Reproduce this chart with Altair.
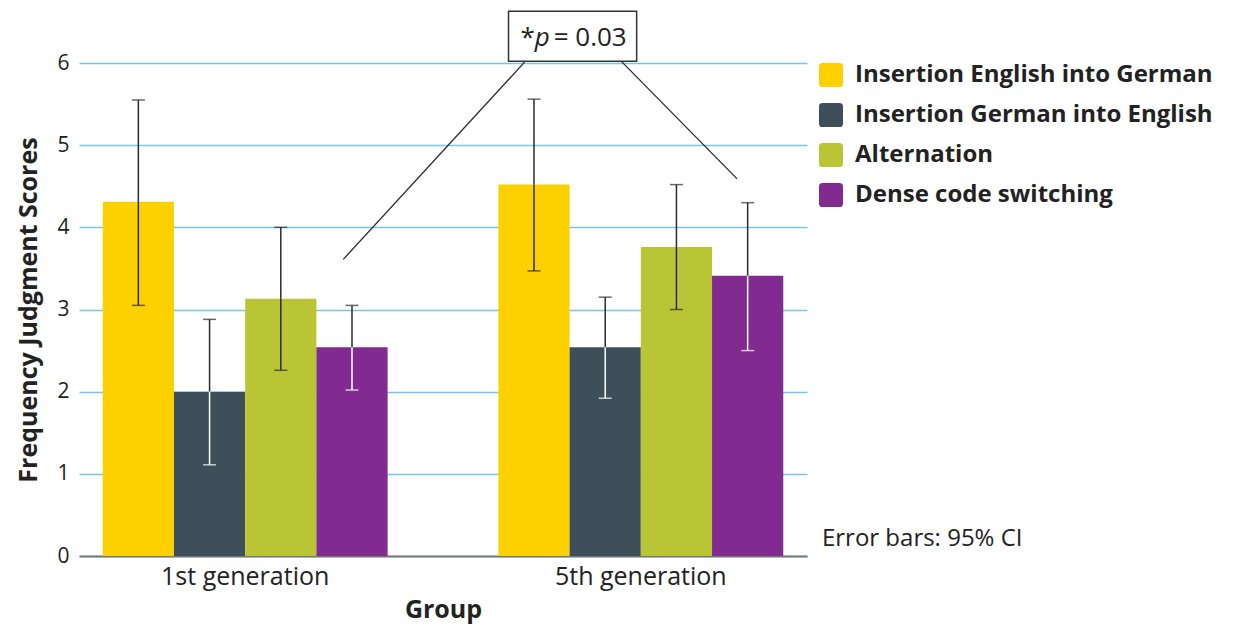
import altair as alt
import pandas as pd

groups = ["1st generation", "5th generation"]
series = ["Insertion English into German", "Insertion German into English",
          "Alternation", "Dense code switching"]
means_1st = [4.31, 2.00, 3.13, 2.54]
means_5th = [4.52, 2.54, 3.76, 3.41]
ci_low_1st = [3.05, 1.11, 2.26, 2.02]
ci_high_1st = [5.55, 2.88, 4.00, 3.05]
ci_low_5th = [3.47, 1.92, 3.00, 2.50]
ci_high_5th = [5.56, 3.15, 4.52, 4.30]
colors = ["#FDD100", "#3E4F5A", "#BAC536", "#812A8F"]
white_bar_series = ["Insertion German into English", "Dense code switching"]

y_ticks = [0, 1, 2, 3, 4, 5, 6]

# annotation (x as fraction of plot width, y in score units)
box_x = [0.590, 0.766]
box_y = [6.02, 6.63]
lines_x = [0.612, 0.363, 0.745, 0.904]   # x_top, x_bottom pairs
lines_y = [6.01, 3.61, 6.02, 4.59]
p_text_x = [0.6260, 0.6260, 0.6520]
p_text_y = 6.207
note_x = 1.0205
note_y = 0.207

rows = []
for g, m, lo, hi in [(groups[0], means_1st, ci_low_1st, ci_high_1st),
                     (groups[1], means_5th, ci_low_5th, ci_high_5th)]:
    for s, mv, l, h in zip(series, m, lo, hi):
        rows.append({"group": g, "series": s, "value": mv, "lo": l, "hi": h})
df = pd.DataFrame(rows)

FONT = "Open Sans"
DARK = "#2b2b2b"

yscale = alt.Scale(domain=[0, 6], nice=False, zero=True)
x_enc = alt.X("group:N", sort=groups, title="Group",
              scale=alt.Scale(paddingInner=0.28, paddingOuter=0.06),
              axis=alt.Axis(labelAngle=0, labelFontSize=25, labelFont=FONT,
                            labelColor="#222", titleFont=FONT, titleFontSize=25,
                            titleFontWeight="bold", titleColor="#222",
                            ticks=False, domainColor="#777", domainWidth=2,
                            labelPadding=8, titlePadding=8))
xo = alt.XOffset("series:N", sort=series)

base = alt.Chart(df)

bars = base.mark_bar().encode(
    x=x_enc, xOffset=xo,
    y=alt.Y("value:Q", scale=yscale, title="Frequency Judgment Scores",
            axis=alt.Axis(values=y_ticks, format="d", grid=True,
                          gridColor="#74c7ec",
                          gridWidth=1.5, domain=False, ticks=False,
                          labelFontSize=21, labelFont=FONT, labelColor="#222",
                          labelPadding=10, titleFont=FONT, titleFontSize=25,
                          titleFontWeight="bold", titleColor="#222",
                          titlePadding=15)),
    color=alt.Color("series:N", sort=series,
                    scale=alt.Scale(domain=series, range=colors),
                    legend=alt.Legend(title=None, orient="right", offset=12,
                                      padding=0, labelFont=FONT,
                                      labelFontSize=24, labelFontWeight="bold",
                                      labelColor="#222", rowPadding=16,
                                      symbolSize=576, symbolStrokeWidth=0,
                                      symbolOpacity=1,
                                      symbolType="M -0.7 -1 H 0.7 Q 1 -1 1 -0.7 V 0.7 Q 1 1 0.7 1 H -0.7 Q -1 1 -1 0.7 V -0.7 Q -1 -1 -0.7 -1 Z",
                                      labelOffset=12)),
)

inner_color = alt.condition(
    alt.FieldOneOfPredicate(field="series", oneOf=white_bar_series),
    alt.value("white"), alt.value(DARK))

err_upper = base.mark_rule(strokeWidth=1.5, color=DARK).encode(
    x=alt.X("group:N", sort=groups), xOffset=xo,
    y=alt.Y("value:Q", scale=yscale), y2="hi:Q")
err_lower = base.mark_rule(strokeWidth=1.5).encode(
    x=alt.X("group:N", sort=groups), xOffset=xo,
    y=alt.Y("lo:Q", scale=yscale), y2="value:Q", color=inner_color)
cap_top = base.mark_tick(orient="horizontal", size=13, thickness=1.5,
                         color=DARK).encode(
    x=alt.X("group:N", sort=groups), xOffset=xo,
    y=alt.Y("hi:Q", scale=yscale))
cap_bot = base.mark_tick(orient="horizontal", size=13, thickness=1.5).encode(
    x=alt.X("group:N", sort=groups), xOffset=xo,
    y=alt.Y("lo:Q", scale=yscale), color=inner_color)

main = alt.layer(bars, err_upper, err_lower, cap_top, cap_bot)

fx = alt.Scale(domain=[0, 1], nice=False, zero=False)

lines_df = pd.DataFrame({"x": [lines_x[0], lines_x[2]], "x2": [lines_x[1], lines_x[3]],
                         "y": [lines_y[0], lines_y[2]], "y2": [lines_y[1], lines_y[3]]})
ann_lines = alt.Chart(lines_df).mark_rule(color=DARK, strokeWidth=1.3).encode(
    x=alt.X("x:Q", scale=fx, axis=None), x2="x2:Q",
    y=alt.Y("y:Q", scale=yscale), y2="y2:Q")

box_df = pd.DataFrame({"x": [box_x[0]], "x2": [box_x[1]], "y": [box_y[0]], "y2": [box_y[1]]})
ann_box = alt.Chart(box_df).mark_rect(fill="white", stroke="#333",
                                      strokeWidth=1.5).encode(
    x=alt.X("x:Q", scale=fx, axis=None), x2="x2:Q",
    y=alt.Y("y:Q", scale=yscale), y2="y2:Q")

def txt(t, x, y, align, style="normal", size=26):
    d = pd.DataFrame({"x": [x], "y": [y], "t": [t]})
    return alt.Chart(d).mark_text(align=align, baseline="alphabetic",
                                  font=FONT, fontSize=size, fontStyle=style,
                                  color="#222").encode(
        x=alt.X("x:Q", scale=fx, axis=None),
        y=alt.Y("y:Q", scale=yscale), text="t:N")

t1 = txt("*", p_text_x[0], p_text_y, "right")
t2 = txt("p", p_text_x[1], p_text_y, "left", style="italic")
t3 = txt("= 0.03", p_text_x[2], p_text_y, "left")

note_df = pd.DataFrame({"x": [note_x], "y": [note_y], "t": ["Error bars: 95% CI"]})
note = alt.Chart(note_df).mark_text(align="left", baseline="middle", font=FONT,
                                    fontSize=24, color="#222").encode(
    x=alt.X("x:Q", scale=fx, axis=None),
    y=alt.Y("y:Q", scale=yscale), text="t:N")

annot = alt.layer(ann_lines, ann_box, t1, t2, t3, note)

chart = alt.layer(main, annot).resolve_scale(x="independent").properties(
    width=728, height=493,
    padding={"left": 8, "top": 2, "right": 2, "bottom": 2},
).configure_view(stroke=None).configure_legend(labelLimit=500)

chart.save("out.html", embed_options={"renderer": "svg", "actions": False})
